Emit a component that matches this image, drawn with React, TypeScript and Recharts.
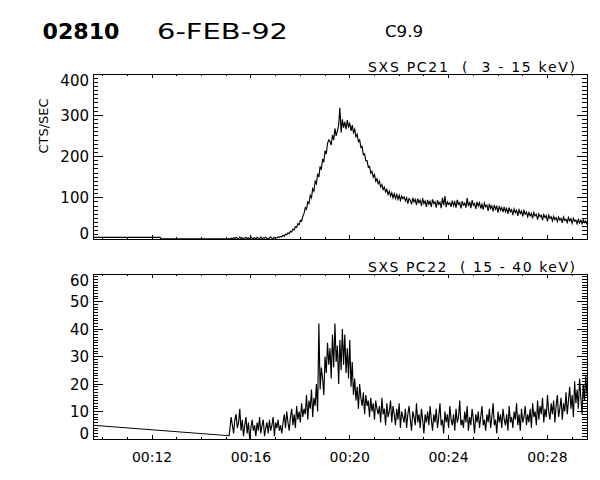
import React from 'react';
import { LineChart, Line, XAxis, YAxis, ReferenceArea } from 'recharts';

// SXS count rates, 6-FEB-92 (time in minutes after 00:00 UT)
const T_START = 15.2;
const T_STEP = 0.05;

const PC21_LEAD_T = [9.61, 12.33, 12.36, 15.15];
const PC21_LEAD = [4, 4, 0.3, 0.3];
// one row per minute, 15.20 .. 29.60
const PC21 = [
  2, 0, 3, 1, 4, 2, 0, 5, 1, 3, 0, 2, 4, 1, 3, 0, 5, 2, 1, 3,
  0, 4, 2, 1, 5, 0, 3, 2, 4, 1, 0, 3, 5, 2, 1, 4, 2, 3, 5, 4,
  6, 5, 9, 7, 12, 10, 15, 13, 19, 17, 24, 22, 30, 28, 37, 35, 45, 43, 55, 62,
  76, 72, 90, 86, 106, 100, 122, 116, 140, 134, 158, 150, 176, 168, 194, 186, 214, 206, 232, 240,
  236, 228, 252, 240, 268, 250, 262, 276, 318, 258, 290, 270, 284, 266, 288, 272, 280, 262, 276, 258,
  266, 248, 254, 236, 240, 222, 224, 204, 206, 190, 190, 174, 176, 160, 164, 150, 156, 140, 146, 134,
  140, 126, 132, 120, 126, 114, 120, 108, 116, 104, 112, 100, 110, 98, 108, 96, 106, 94, 104, 98,
  102, 92, 100, 86, 98, 94, 84, 100, 90, 96, 82, 98, 88, 94, 80, 99, 86, 92, 78, 95,
  84, 91, 78, 96, 86, 90, 76, 94, 84, 89, 75, 100, 82, 104, 77, 90, 84, 88, 78, 93,
  81, 90, 76, 95, 84, 88, 74, 92, 82, 87, 76, 99, 80, 90, 75, 94, 82, 86, 73, 90,
  80, 88, 74, 84, 71, 87, 78, 82, 68, 85, 74, 80, 67, 82, 72, 79, 64, 80, 70, 76,
  65, 78, 66, 74, 61, 76, 66, 71, 58, 73, 64, 70, 56, 71, 62, 68, 55, 69, 60, 65,
  54, 64, 56, 62, 50, 64, 56, 60, 47, 61, 54, 58, 46, 59, 52, 57, 43, 58, 50, 54,
  44, 55, 47, 52, 42, 53, 46, 50, 39, 53, 45, 48, 40, 52, 44, 49, 38, 50, 43, 46,
  37, 47, 39, 46, 37, 47, 40, 44, 35,
];

const PC22_LEAD_T = [9.61, 15.12];
const PC22_LEAD = [5, 1.2];
const PC22 = [
  8, 5, 2, 7, 9, 4, 6, 11, 3, 7, 1, 5, 8, 2, 6, 0, 4, 7, 3, 5,
  1, 6, 3, 8, 2, 5, 7, 1, 4, 6, 2, 7, 3, 5, 8, 1, 6, 4, 7, 3,
  5, 2, 6, 9, 4, 10, 6, 3, 8, 11, 5, 9, 4, 12, 7, 10, 6, 13, 8, 11,
  9, 16, 7, 14, 11, 18, 8, 15, 12, 20, 10, 42, 18, 26, 22, 16, 30, 24, 35, 27,
  33, 22, 38, 26, 42, 28, 34, 20, 36, 25, 40, 27, 38, 24, 33, 22, 36, 19, 28, 16,
  22, 14, 19, 11, 20, 15, 12, 17, 9, 16, 12, 14, 8, 15, 10, 13, 7, 14, 11, 9,
  12, 6, 15, 9, 11, 5, 13, 8, 10, 14, 6, 12, 9, 5, 11, 7, 13, 4, 10, 8,
  6, 11, 4, 9, 12, 7, 3, 10, 8, 5, 13, 6, 9, 4, 11, 7, 2, 9, 6, 10,
  5, 12, 7, 3, 9, 6, 11, 4, 8, 13, 5, 7, 2, 10, 6, 9, 4, 12, 7, 5,
  9, 3, 11, 6, 8, 14, 5, 7, 4, 10, 6, 12, 3, 8, 5, 11, 7, 2, 9, 6,
  10, 4, 8, 12, 5, 7, 3, 9, 6, 11, 4, 8, 13, 5, 7, 2, 10, 6, 9, 4,
  11, 7, 5, 9, 3, 12, 6, 8, 4, 10, 7, 13, 5, 9, 3, 11, 6, 8, 12, 5,
  9, 6, 11, 4, 13, 8, 10, 5, 14, 7, 12, 9, 15, 6, 11, 8, 16, 10, 7, 13,
  9, 14, 6, 12, 16, 8, 11, 15, 7, 13, 10, 17, 9, 14, 19, 11, 16, 8, 21, 13,
  18, 11, 22, 15, 9, 20, 14, 23, 16,
];

const X_DOMAIN: [number, number] = [9.61, 29.6];
const X_TICKS = Array.from({ length: 20 }, (_, i) => 10 + i);
const X_LABELS = [12, 16, 20, 24, 28];

const PC21_LABELS = [0, 100, 200, 300, 400];
const PC22_LABELS = [0, 10, 20, 30, 40, 50, 60];

const PL = 93;
const PR = 587;
const Y_AXIS_W = 40;
const X_AXIS_H = 10;
const FONT = 'DejaVu Sans';

const toRows = (leadT: number[], lead: number[], vals: number[]) => [
  ...leadT.map((t, i) => ({ t, v: lead[i] })),
  ...vals.map((v, i) => ({ t: +(T_START + i * T_STEP).toFixed(2), v })),
];

type PanelProps = {
  rows: { t: number; v: number }[];
  yMax: number;
  yMinorStep: number;
  yLabels: number[];
  title: string;
  top: number;
  height: number;
  plotTop: number;
  plotBottom: number;
  showX: boolean;
};

function Panel({ rows, yMax, yMinorStep, yLabels, title, top, height, plotTop, plotBottom, showX }: PanelProps) {
  const yTicks = Array.from({ length: yMax / yMinorStep + 1 }, (_, i) => i * yMinorStep);

  const yTick = (p: any) => {
    const y = p.y;
    const v = p.payload.value;
    const major = yLabels.includes(v);
    const len = major ? 10 : 5;
    let ty = y + 5.5;
    if (v === yMax) ty = y + 11.5;
    if (v === 0) ty = y - 0.5;
    return (
      <g>
        <line x1={PL} x2={PL + len} y1={y} y2={y} stroke="#000" shapeRendering="crispEdges" />
        <line x1={PR - len} x2={PR} y1={y} y2={y} stroke="#000" shapeRendering="crispEdges" />
        {major && (
          <text x={PL - 4} y={ty} textAnchor="end" fontSize={15} fontFamily={FONT} fill="#000">
            {v}
          </text>
        )}
      </g>
    );
  };

  const xTick = (p: any) => {
    const x = p.x;
    const v = p.payload.value;
    const major = X_LABELS.includes(v);
    const len = major ? 4 : 2;
    return (
      <g>
        <line x1={x} x2={x} y1={plotBottom} y2={plotBottom - len} stroke="#000" shapeRendering="crispEdges" />
        <line x1={x} x2={x} y1={plotTop} y2={plotTop + len} stroke="#000" shapeRendering="crispEdges" />
        {showX && major && (
          <text x={x} y={plotBottom + 22.7} textAnchor="middle" fontSize={14} fontFamily={FONT} fill="#000">
            {`00:${String(v).padStart(2, '0')}`}
          </text>
        )}
      </g>
    );
  };

  return (
    <div style={{ position: 'absolute', left: 0, top }}>
      <LineChart
        width={600}
        height={height}
        data={rows}
        margin={{
          top: plotTop,
          right: 600 - PR,
          bottom: height - plotBottom - X_AXIS_H,
          left: PL - Y_AXIS_W,
        }}
      >
        <XAxis
          type="number"
          dataKey="t"
          domain={X_DOMAIN}
          ticks={X_TICKS}
          interval={0}
          allowDataOverflow
          height={X_AXIS_H}
          axisLine={false}
          tickLine={false}
          tick={xTick}
        />
        <YAxis
          type="number"
          domain={[0, yMax]}
          ticks={yTicks}
          interval={0}
          allowDataOverflow
          width={Y_AXIS_W}
          axisLine={false}
          tickLine={false}
          tick={yTick}
        />
        <Line
          type="linear"
          dataKey="v"
          stroke="#000"
          strokeWidth={1.15}
          dot={false}
          isAnimationActive={false}
        />
        <ReferenceArea
          x1={X_DOMAIN[0]}
          x2={X_DOMAIN[1]}
          y1={0}
          y2={yMax}
          fill="none"
          stroke="#000"
          strokeWidth={1}
          shapeRendering="crispEdges"
        />
      </LineChart>
      <svg width={600} height={height} style={{ position: 'absolute', left: 0, top: 0, pointerEvents: 'none' }}>
        <text
          x={368}
          y={plotTop - 2.5}
          fontSize={14}
          fontFamily={FONT}
          fill="#000"
          textLength={207}
          lengthAdjust="spacing"
          style={{ whiteSpace: 'pre' }}
        >
          {title}
        </text>
      </svg>
    </div>
  );
}

export default function App() {
  return (
    <div style={{ position: 'absolute', left: 0, top: 0, width: 600, height: 480, background: '#fff' }}>
      <svg width={600} height={480} style={{ position: 'absolute', left: 0, top: 0 }}>
        <text x={42.5} y={38.5} fontSize={21} fontWeight="bold" fontFamily={FONT} fill="#000" textLength={77} lengthAdjust="spacingAndGlyphs">
          02810
        </text>
        <text x={157} y={38.5} fontSize={21} fontFamily={FONT} fill="#000" textLength={131} lengthAdjust="spacingAndGlyphs">
          6-FEB-92
        </text>
        <text x={385} y={37} fontSize={15} fontFamily={FONT} fill="#000" textLength={38} lengthAdjust="spacingAndGlyphs">
          C9.9
        </text>
        <text
          x={48}
          y={126}
          fontSize={13}
          fontFamily={FONT}
          fill="#000"
          textAnchor="middle"
          transform="rotate(-90 48 126)"
        >
          CTS/SEC
        </text>
      </svg>
      <Panel
        rows={toRows(PC21_LEAD_T, PC21_LEAD, PC21)}
        yMax={400}
        yMinorStep={10}
        yLabels={PC21_LABELS}
        title="SXS PC21  (  3 - 15 keV)"
        top={0}
        height={250}
        plotTop={74}
        plotBottom={239}
        showX={false}
      />
      <Panel
        rows={toRows(PC22_LEAD_T, PC22_LEAD, PC22)}
        yMax={60}
        yMinorStep={1}
        yLabels={PC22_LABELS}
        title="SXS PC22  ( 15 - 40 keV)"
        top={250}
        height={230}
        plotTop={24}
        plotBottom={189}
        showX={true}
      />
    </div>
  );
}
